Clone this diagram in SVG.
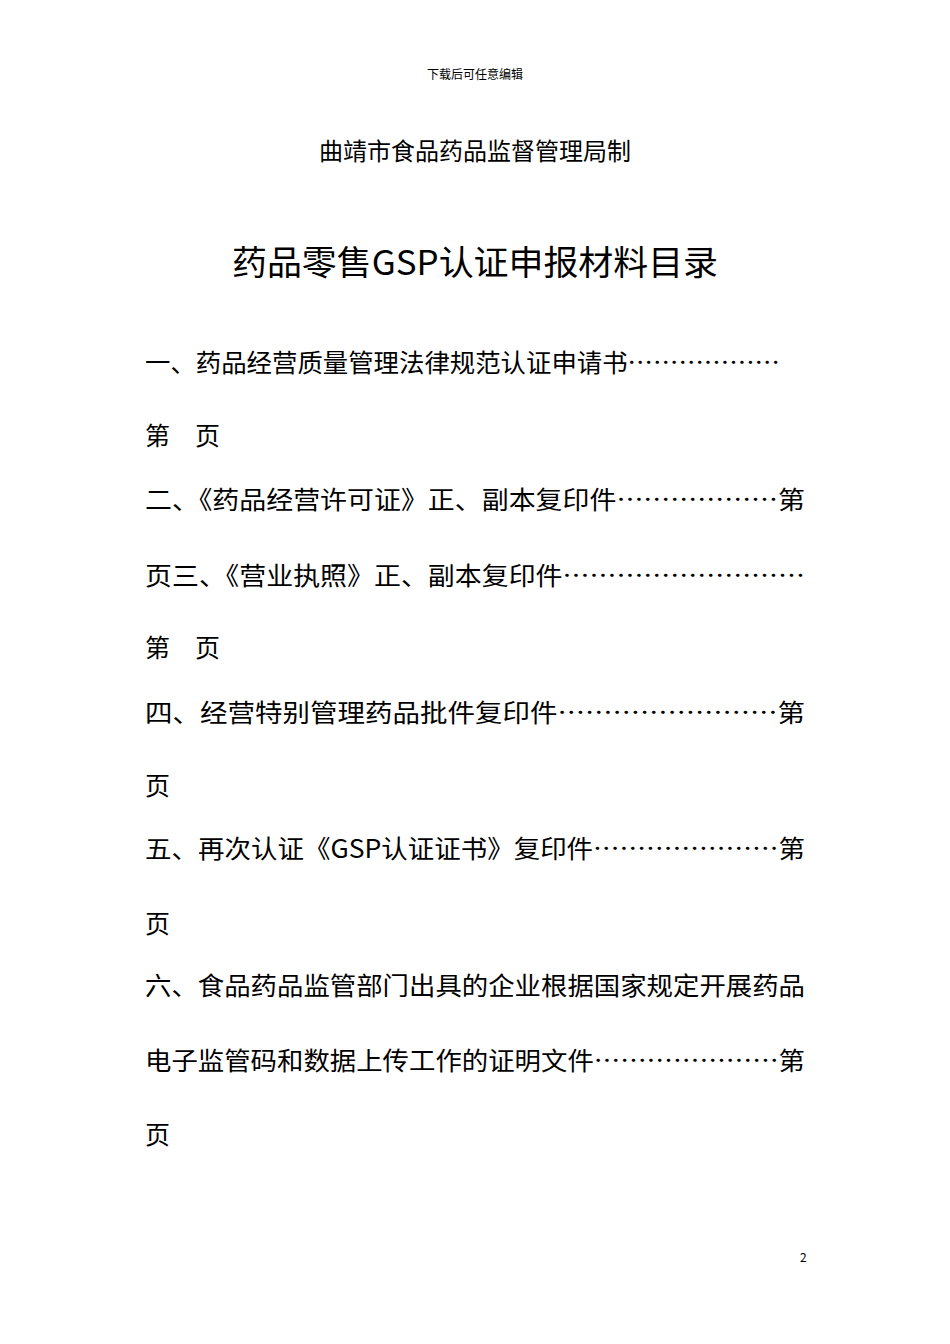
<svg xmlns="http://www.w3.org/2000/svg" width="950" height="1344" viewBox="0 0 950 1344">
<style>
text{font-family:"Noto Sans CJK SC","Noto Sans",sans-serif;fill:#000}
.b{font-size:25px}
</style>
<rect width="950" height="1344" fill="#fff"/>
<text x="475" y="79" font-size="12" text-anchor="middle">下载后可任意编辑</text>
<text x="475" y="160" font-size="24" text-anchor="middle">曲靖市食品药品监督管理局制</text>
<text x="232" y="275" font-size="34" textLength="486" lengthAdjust="spacingAndGlyphs">药品零售GSP认证申报材料目录</text>
<text class="b" x="145" y="372" textLength="635" lengthAdjust="spacingAndGlyphs">一、药品经营质量管理法律规范认证申请书………………</text>
<text class="b" x="145" y="445">第　页</text>
<text class="b" x="145" y="509" textLength="660" lengthAdjust="spacingAndGlyphs">二、《药品经营许可证》正、副本复印件………………第</text>
<text class="b" x="145" y="585" textLength="660" lengthAdjust="spacingAndGlyphs">页三、《营业执照》正、副本复印件………………………</text>
<text class="b" x="145" y="657">第　页</text>
<text class="b" x="145" y="722" textLength="660" lengthAdjust="spacingAndGlyphs">四、经营特别管理药品批件复印件……………………第</text>
<text class="b" x="145" y="795">页</text>
<text class="b" x="145" y="858" textLength="660" lengthAdjust="spacingAndGlyphs">五、再次认证《GSP认证证书》复印件…………………第</text>
<text class="b" x="145" y="933">页</text>
<text class="b" x="145" y="995" textLength="660" lengthAdjust="spacingAndGlyphs">六、食品药品监管部门出具的企业根据国家规定开展药品</text>
<text class="b" x="145" y="1070" textLength="660" lengthAdjust="spacingAndGlyphs">电子监管码和数据上传工作的证明文件…………………第</text>
<text class="b" x="145" y="1144">页</text>
<text x="800" y="1262" font-size="12">2</text>
</svg>
